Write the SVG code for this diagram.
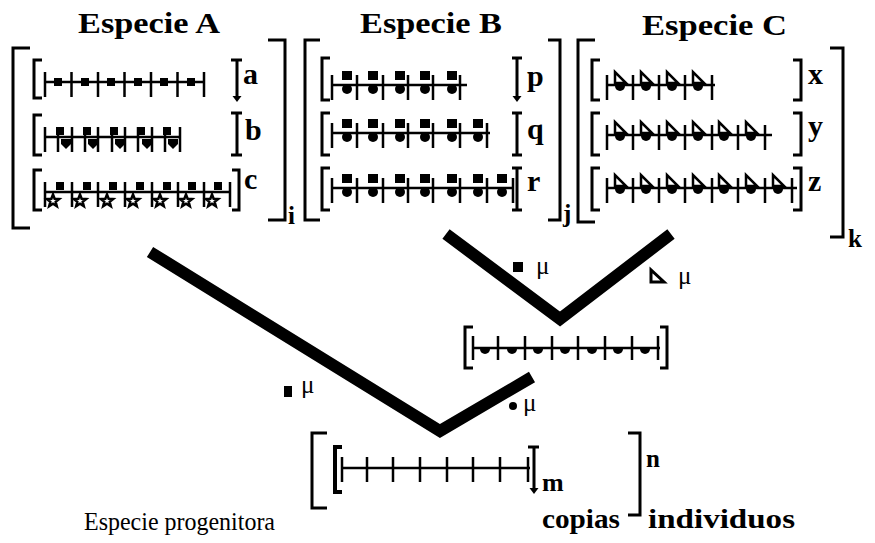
<svg xmlns="http://www.w3.org/2000/svg" xmlns:xlink="http://www.w3.org/1999/xlink" width="875" height="543" viewBox="0 0 875 543">
<style>
.br{fill:none;stroke:#000;stroke-width:3}
.chr{fill:none;stroke:#000;stroke-width:2.5}
.lbl{font-family:"Liberation Serif",serif;font-weight:bold;font-size:30px;fill:#000}
.sub{font-family:"Liberation Serif",serif;font-weight:bold;font-size:25px;fill:#000}
.ttl{font-family:"Liberation Serif",serif;font-weight:bold;font-size:30px;fill:#000}
.mu{font-family:"Liberation Serif",serif;font-size:25px;fill:#000}
.conn{fill:none;stroke:#000;stroke-width:12;stroke-linejoin:miter}
</style>
<defs>
<rect id="sq" x="-4" y="-4" width="8" height="8" fill="#000"/>
<rect id="sqB" x="-5" y="-5" width="10" height="9" fill="#000"/>
<circle id="dot" r="5" fill="#000"/>
<path id="semi" d="M-5,0 A5,5 0 0 0 5,0 Z" fill="#000"/>
<path id="shield" d="M-5,0 H5 V5 L0,10 L-5,5 Z" fill="#000"/>
<path id="tri" d="M-5,-13 L-5,-2 L6,-2 Z" fill="#fff" stroke="#000" stroke-width="2.5" stroke-linejoin="miter"/>
<polygon id="star" points="0,-6.5 1.65,-2.27 6.18,-2.01 2.66,0.87 3.82,5.26 0,2.8 -3.82,5.26 -2.66,0.87 -6.18,-2.01 -1.65,-2.27" fill="#fff" stroke="#000" stroke-width="2.5"/>
<path id="arrow" d="M-4.5,0 L4.5,0 L0,6 Z" fill="#000"/>
</defs>

<g id="speciesA">
<text class="ttl" x="78" y="33" textLength="142" lengthAdjust="spacingAndGlyphs">Especie A</text>
<path class="br" d="M30,48 H13 V228 H30"/>
<path class="br" d="M268,40 H285 V220 H268"/>
<text class="sub" x="288" y="224">i</text>
<g id="rowA">
<path class="br" d="M42,60 H34 V98 H42"/>
<path class="chr" d="M45,82 H204 M45,72 V97 M71.5,72 V97 M98,72 V97 M124.5,72 V97 M151,72 V97 M177.5,72 V97 M204,72 V97"/>
<use href="#sq" x="58" y="82"/><use href="#sq" x="85" y="82"/><use href="#sq" x="111" y="82"/><use href="#sq" x="138" y="82"/><use href="#sq" x="164" y="82"/><use href="#sq" x="191" y="82"/>
<path class="br" d="M231,60 H242 M237,60 V97"/><use href="#arrow" x="237" y="96"/>
<text class="lbl" x="243" y="84">a</text>
</g>
<g id="rowB">
<path class="br" d="M42,115 H34 V155 H42"/>
<path class="chr" d="M45,137 H180 M45,127 V152 M58,127 V152 M72,127 V152 M85,127 V152 M98,127 V152 M112,127 V152 M125,127 V152 M138,127 V152 M152,127 V152 M165,127 V152 M180,127 V152"/>
<use href="#sq" x="60" y="131"/><use href="#sq" x="87" y="131"/><use href="#sq" x="114" y="131"/><use href="#sq" x="141" y="131"/><use href="#sq" x="167" y="131"/>
<use href="#shield" x="66" y="139"/><use href="#shield" x="93" y="139"/><use href="#shield" x="120" y="139"/><use href="#shield" x="147" y="139"/><use href="#shield" x="173" y="139"/>
<path class="br" d="M231,113 H242 M237,113 V155 M231,155 H242"/>
<text class="lbl" x="245" y="140">b</text>
</g>
<g id="rowC">
<path class="br" d="M42,170 H34 V210 H42"/>
<path class="chr" d="M45,192 H230 M45,182 V207 M72,182 V207 M98,182 V207 M125,182 V207 M152,182 V207 M178,182 V207 M204,182 V207 M230,182 V207"/>
<use href="#sq" x="60" y="186"/><use href="#sq" x="87" y="186"/><use href="#sq" x="113" y="186"/><use href="#sq" x="140" y="186"/><use href="#sq" x="167" y="186"/><use href="#sq" x="192" y="186"/><use href="#sq" x="218" y="186"/>
<use href="#star" x="53" y="201"/><use href="#star" x="80" y="201"/><use href="#star" x="107" y="201"/><use href="#star" x="133" y="201"/><use href="#star" x="160" y="201"/><use href="#star" x="186" y="201"/><use href="#star" x="212" y="201"/>
<path class="br" d="M232,170 H239 V210 H232"/>
<text class="lbl" x="244" y="189">c</text>
</g>
</g>

<g id="speciesB">
<text class="ttl" x="360" y="33" textLength="142" lengthAdjust="spacingAndGlyphs">Especie B</text>
<path class="br" d="M320,40 H305 V220 H320"/>
<path class="br" d="M548,40 H560 V220 H548"/>
<text class="sub" x="563" y="222">j</text>
<g id="rowP">
<path class="br" d="M330,58 H322 V100 H330"/>
<path class="chr" d="M332,85 H467 M332,75 V100 M357,75 V100 M383,75 V100 M408,75 V100 M433,75 V100 M460,75 V100"/>
<use href="#sqB" x="347" y="76"/><use href="#sqB" x="373" y="76"/><use href="#sqB" x="400" y="76"/><use href="#sqB" x="425" y="76"/><use href="#sqB" x="452" y="76"/>
<use href="#dot" x="347" y="89"/><use href="#dot" x="373" y="89"/><use href="#dot" x="400" y="89"/><use href="#dot" x="425" y="89"/><use href="#dot" x="452" y="89"/>
<path class="br" d="M512,58 H522 M517,58 V97"/><use href="#arrow" x="517" y="96"/>
<text class="lbl" x="527" y="86">p</text>
</g>
<g id="rowQ">
<path class="br" d="M330,113 H322 V155 H330"/>
<path class="chr" d="M332,133 H490 M332,123 V148 M357,123 V148 M383,123 V148 M408,123 V148 M433,123 V148 M460,123 V148 M487,123 V148"/>
<use href="#sqB" x="347" y="124"/><use href="#sqB" x="373" y="124"/><use href="#sqB" x="400" y="124"/><use href="#sqB" x="425" y="124"/><use href="#sqB" x="452" y="124"/><use href="#sqB" x="478" y="124"/>
<use href="#dot" x="347" y="137"/><use href="#dot" x="373" y="137"/><use href="#dot" x="400" y="137"/><use href="#dot" x="425" y="137"/><use href="#dot" x="452" y="137"/><use href="#dot" x="478" y="137"/>
<path class="br" d="M512,113 H522 M517,113 V155 M512,155 H522"/>
<text class="lbl" x="527" y="139">q</text>
</g>
<g id="rowR">
<path class="br" d="M330,168 H322 V210 H330"/>
<path class="chr" d="M332,188 H513 M332,178 V203 M357,178 V203 M383,178 V203 M408,178 V203 M433,178 V203 M460,178 V203 M487,178 V203 M513,178 V203"/>
<use href="#sqB" x="347" y="179"/><use href="#sqB" x="373" y="179"/><use href="#sqB" x="400" y="179"/><use href="#sqB" x="425" y="179"/><use href="#sqB" x="452" y="179"/><use href="#sqB" x="478" y="179"/><use href="#sqB" x="502" y="179"/>
<use href="#dot" x="347" y="192"/><use href="#dot" x="373" y="192"/><use href="#dot" x="400" y="192"/><use href="#dot" x="425" y="192"/><use href="#dot" x="452" y="192"/><use href="#dot" x="478" y="192"/><use href="#dot" x="502" y="192"/>
<path class="br" d="M512,168 H522 M517,168 V210 M512,210 H522"/>
<text class="lbl" x="527" y="191">r</text>
</g>
</g>

<g id="speciesC">
<text class="ttl" x="642" y="35" textLength="145" lengthAdjust="spacingAndGlyphs">Especie C</text>
<path class="br" d="M595,40 H578 V222 H595"/>
<path class="br" d="M830,48 H843 V237 H830"/>
<text class="sub" x="848" y="247">k</text>
<g id="rowX">
<path class="br" d="M600,60 H592 V100 H600"/>
<path class="chr" d="M607,85 H715 M607,75 V100 M633,75 V100 M659,75 V100 M685,75 V100 M712,75 V100"/>
<use href="#tri" x="620" y="85"/><use href="#tri" x="646" y="85"/><use href="#tri" x="672" y="85"/><use href="#tri" x="698" y="85"/>
<use href="#semi" x="620" y="86"/><use href="#semi" x="646" y="86"/><use href="#semi" x="672" y="86"/><use href="#semi" x="698" y="86"/>
<path class="br" d="M793,60 H801 V100 H793"/>
<text class="lbl" x="808" y="84">x</text>
</g>
<g id="rowY">
<path class="br" d="M600,113 H592 V155 H600"/>
<path class="chr" d="M607,135 H772 M607,125 V150 M633,125 V150 M659,125 V150 M685,125 V150 M712,125 V150 M738,125 V150 M765,125 V150"/>
<use href="#tri" x="620" y="135"/><use href="#tri" x="646" y="135"/><use href="#tri" x="672" y="135"/><use href="#tri" x="698" y="135"/><use href="#tri" x="724" y="135"/><use href="#tri" x="751" y="135"/>
<use href="#semi" x="620" y="136"/><use href="#semi" x="646" y="136"/><use href="#semi" x="672" y="136"/><use href="#semi" x="698" y="136"/><use href="#semi" x="724" y="136"/><use href="#semi" x="751" y="136"/>
<path class="br" d="M793,113 H801 V155 H793"/>
<text class="lbl" x="808" y="136">y</text>
</g>
<g id="rowZ">
<path class="br" d="M600,168 H592 V210 H600"/>
<path class="chr" d="M607,188 H797 M607,178 V203 M633,178 V203 M659,178 V203 M685,178 V203 M712,178 V203 M738,178 V203 M765,178 V203 M792,178 V203"/>
<use href="#tri" x="620" y="188"/><use href="#tri" x="646" y="188"/><use href="#tri" x="672" y="188"/><use href="#tri" x="698" y="188"/><use href="#tri" x="724" y="188"/><use href="#tri" x="751" y="188"/><use href="#tri" x="778" y="188"/>
<use href="#semi" x="620" y="189"/><use href="#semi" x="646" y="189"/><use href="#semi" x="672" y="189"/><use href="#semi" x="698" y="189"/><use href="#semi" x="724" y="189"/><use href="#semi" x="751" y="189"/><use href="#semi" x="778" y="189"/>
<path class="br" d="M793,168 H801 V210 H793"/>
<text class="lbl" x="808" y="191">z</text>
</g>
</g>

<g id="ancestorBC">
<path class="br" d="M473,327 H465 V368 H473"/>
<path class="chr" d="M473,348 H660 M473,336 V360 M498,336 V360 M525,336 V360 M552,336 V360 M578,336 V360 M605,336 V360 M632,336 V360 M658,336 V360"/>
<use href="#semi" x="485" y="349"/><use href="#semi" x="512" y="349"/><use href="#semi" x="538" y="349"/><use href="#semi" x="565" y="349"/><use href="#semi" x="592" y="349"/><use href="#semi" x="618" y="349"/><use href="#semi" x="645" y="349"/>
<path class="br" d="M660,327 H667 V368 H660"/>
</g>

<g id="progenitor">
<path class="br" d="M327,433 H312 V508 H327"/>
<path class="br" d="M342,447 H335 V492 H342" style="stroke-width:4"/>
<path class="chr" d="M342,468 H530 M342,457 V482 M367,457 V482 M393,457 V482 M420,457 V482 M447,457 V482 M473,457 V482 M500,457 V482 M528,457 V482"/>
<path class="br" d="M528,447 H539 M534,447 V489"/><use href="#arrow" x="534" y="488"/>
<text class="lbl" x="542" y="491" style="font-size:26px">m</text>
<path class="br" d="M628,433 H640 V515 H628"/>
<text class="sub" x="646" y="467">n</text>
<text class="lbl" x="542" y="528" style="font-size:27px" textLength="78" lengthAdjust="spacingAndGlyphs">copias</text>
<text class="lbl" x="648" y="528" style="font-size:27px" textLength="147" lengthAdjust="spacingAndGlyphs">individuos</text>
<text x="84" y="530" font-family="Liberation Serif, serif" font-size="26" textLength="191" lengthAdjust="spacingAndGlyphs">Especie progenitora</text>
</g>

<g id="connectors">
<polyline class="conn" points="446,234 560,319 671,234"/>
<polyline class="conn" points="150,252 440,431 532,377"/>
</g>

<g id="mutations">
<rect x="513" y="262" width="10" height="10" fill="#000"/>
<text class="mu" x="536" y="274">μ</text>
<path d="M651,270 L651,282 L664,282 Z" fill="#fff" stroke="#000" stroke-width="3"/>
<text class="mu" x="678" y="284">μ</text>
<rect x="284" y="386" width="8" height="11" fill="#000"/>
<text class="mu" x="301" y="393">μ</text>
<circle cx="513" cy="406" r="4" fill="#000"/>
<text class="mu" x="523" y="411">μ</text>
</g>
</svg>
